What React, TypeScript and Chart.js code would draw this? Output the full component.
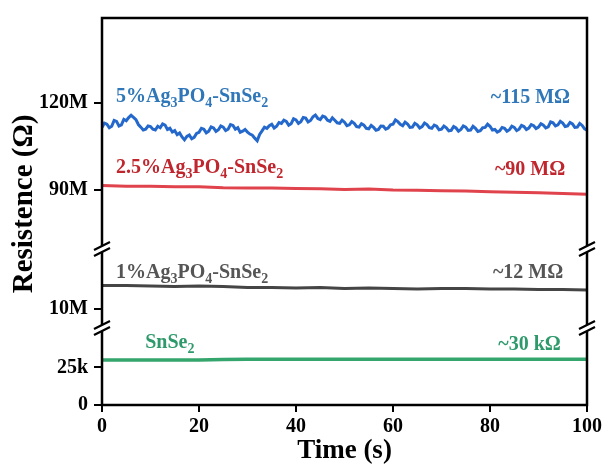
import React, { useEffect, useRef } from 'react';
import { Chart, registerables } from 'chart.js';

Chart.register(...registerables);

// ---------- data ----------
const timeDense: number[] = Array.from({ length: 201 }, (_, i) => i * 0.5);
const timeSparse: number[] = [0, 5, 10, 15, 20, 25, 30, 35, 40, 45, 50, 55, 60, 65, 70, 75, 80, 85, 90, 95, 100];

// 5%Ag3PO4-SnSe2 (MΩ), every 0.5 s
const blueValues: number[] = [
  111.5, 113.0, 112.6, 111.4, 111.9, 113.9, 113.6, 112.0, 112.4, 114.3, 113.8, 114.9, 115.7, 115.0, 114.2, 112.5, 111.6, 110.6, 110.9, 112.0,
  111.8, 110.9, 110.6, 111.9, 111.4, 112.7, 112.3, 110.8, 111.2, 109.9, 110.4, 109.0, 109.6, 108.2, 107.2, 108.4, 108.9, 107.6, 108.1, 109.4,
  109.8, 111.2, 110.9, 109.6, 110.2, 111.7, 111.3, 110.1, 110.7, 112.0, 111.6, 110.4, 110.9, 112.5, 112.2, 110.9, 111.4, 109.8, 110.2, 110.8,
  109.9, 109.2, 108.8, 107.8, 106.9, 109.1, 110.3, 111.6, 111.2, 112.1, 112.6, 111.3, 111.9, 113.2, 112.9, 114.0, 113.6, 112.3, 112.8, 114.5,
  114.1, 112.9, 113.5, 114.9, 114.7, 113.4, 113.9, 115.2, 115.8, 114.6, 114.2, 115.4, 115.1, 114.0, 113.6, 114.8, 114.0, 113.1, 112.9, 114.0,
  113.3, 112.1, 112.4, 113.5, 112.9, 111.8, 111.6, 112.8, 112.3, 111.2, 111.0, 112.2, 111.5, 110.5, 110.8, 112.0, 111.9, 110.9, 111.3, 112.4,
  112.6, 114.1, 113.5, 112.6, 112.1, 113.3, 112.7, 111.5, 111.6, 112.9, 112.4, 111.3, 111.8, 113.0, 112.5, 111.4, 111.2, 112.3, 111.9, 110.7,
  110.9, 112.0, 111.4, 110.3, 110.5, 111.8, 111.3, 110.2, 110.8, 112.0, 111.6, 110.5, 110.6, 111.9, 111.2, 110.1, 110.4, 111.4, 111.5, 112.6,
  111.9, 110.6, 110.8, 109.9, 110.3, 111.5, 111.2, 110.2, 110.7, 111.9, 111.5, 110.4, 110.9, 112.2, 111.8, 110.8, 111.3, 112.5, 112.1, 111.1,
  111.6, 112.8, 112.3, 111.3, 111.7, 113.4, 113.1, 112.0, 112.4, 113.6, 113.0, 111.8, 112.0, 113.2, 112.7, 111.5, 111.6, 112.9, 112.2, 111.0,
  110.6,
];
// 2.5%Ag3PO4-SnSe2 (MΩ)
const redValues: number[] = [
  91.4, 91.2, 91.2, 91.0, 91.0, 90.7, 90.6, 90.6, 90.4, 90.3, 90.1,
  90.2, 89.9, 89.8, 89.6, 89.5, 89.3, 89.1, 88.9, 88.7, 88.4,
];
// 1%Ag3PO4-SnSe2 (MΩ)
const grayValues: number[] = [
  12.4, 12.4, 12.35, 12.3, 12.35, 12.3, 12.2, 12.2, 12.15, 12.2, 12.1,
  12.15, 12.1, 12.05, 12.1, 12.1, 12.05, 12.05, 12.0, 12.0, 11.95,
];
// SnSe2 (kΩ)
const greenValues: number[] = [
  29.9, 29.9, 30.0, 30.0, 30.0, 30.3, 30.4, 30.4, 30.4, 30.4, 30.4,
  30.5, 30.5, 30.5, 30.5, 30.5, 30.5, 30.5, 30.5, 30.5, 30.5,
];

const xTicks: number[] = [0, 20, 40, 60, 80, 100];
const yTicksLow: number[] = [0, 25000];
const yTickLabelsLow: string[] = ['0', '25k'];
const yTicksMid: number[] = [10e6];
const yTickLabelsMid: string[] = ['10M'];
const yTicksTop: number[] = [90e6, 120e6];
const yTickLabelsTop: string[] = ['90M', '120M'];

const seriesNames: string[] = ['5%Ag_3PO_4-SnSe_2', '2.5%Ag_3PO_4-SnSe_2', '1%Ag_3PO_4-SnSe_2', 'SnSe_2'];
const valueNotes: string[] = ['~115 MΩ', '~90 MΩ', '~12 MΩ', '~30 kΩ'];

// ---------- style / layout ----------
const FONT = '"Liberation Serif", "Times New Roman", serif';
const lineColors = ['#2468cc', '#e0434c', '#454545', '#34a56c'];
const textColors = ['#2f77b8', '#c0262d', '#555555', '#2e9a6b'];
const axisIds = ['yTop', 'yTop', 'yMid', 'yLow'];
// anchors in data units: [xLeft, yLeft, xRight, yRight]
const labelAnchors: number[][] = [
  [2.9, 120.3e6, 96.5, 120.0e6],
  [2.9, 95.7e6, 95.5, 95.0e6],
  [2.9, 13.2, 95.1, 13.2],
  [8.9, 38.2, 94.6, 36.8],
];

function parseRich(s: string) {
  const parts: { t: string; sub: boolean }[] = [];
  let buf = '';
  for (let i = 0; i < s.length; i++) {
    if (s[i] === '_') {
      if (buf) parts.push({ t: buf, sub: false });
      buf = '';
      parts.push({ t: s[i + 1], sub: true });
      i++;
    } else buf += s[i];
  }
  if (buf) parts.push({ t: buf, sub: false });
  return parts;
}

function drawRich(ctx: CanvasRenderingContext2D, s: string, x: number, y: number, align: 'left' | 'right', color: string) {
  const parts = parseRich(s);
  const main = `bold 20px ${FONT}`;
  const sub = `bold 14px ${FONT}`;
  let w = 0;
  for (const p of parts) {
    ctx.font = p.sub ? sub : main;
    w += ctx.measureText(p.t).width;
  }
  let cx = align === 'right' ? x - w : x;
  ctx.fillStyle = color;
  ctx.textAlign = 'left';
  ctx.textBaseline = 'alphabetic';
  for (const p of parts) {
    ctx.font = p.sub ? sub : main;
    ctx.fillText(p.t, cx, p.sub ? y + 5 : y);
    cx += ctx.measureText(p.t).width;
  }
}

const decorPlugin = {
  id: 'decor',
  afterDraw(chart: any) {
    const { ctx, chartArea: ca, scales } = chart;
    ctx.save();
    // frame
    ctx.strokeStyle = '#000';
    ctx.lineWidth = 2.5;
    ctx.strokeRect(ca.left, ca.top, ca.right - ca.left, ca.bottom - ca.top);
    // axis breaks
    const bounds = [scales.yTop.bottom, scales.yMid.bottom];
    for (const yb of bounds) {
      for (const x of [ca.left, ca.right]) {
        ctx.fillStyle = '#fff';
        ctx.fillRect(x - 4, yb - 3, 8, 6);
        ctx.beginPath();
        for (const d of [-3, 3]) {
          ctx.moveTo(x - 8, yb + d + 4);
          ctx.lineTo(x + 8, yb + d - 4);
        }
        ctx.strokeStyle = '#000';
        ctx.lineWidth = 2.2;
        ctx.stroke();
      }
    }
    // series labels
    const xs = scales.x;
    seriesNames.forEach((name, i) => {
      const ys = scales[axisIds[i]];
      const a = labelAnchors[i];
      const k = axisIds[i] === 'yMid' ? 1e6 : axisIds[i] === 'yLow' ? 1e3 : 1;
      drawRich(ctx, name, xs.getPixelForValue(a[0]), ys.getPixelForValue(a[1] * k), 'left', textColors[i]);
      drawRich(ctx, valueNotes[i], xs.getPixelForValue(a[2]), ys.getPixelForValue(a[3] * k), 'right', textColors[i]);
    });
    // axis titles
    ctx.fillStyle = '#000';
    ctx.font = `bold 27px ${FONT}`;
    ctx.textAlign = 'center';
    ctx.textBaseline = 'alphabetic';
    ctx.fillText('Time (s)', (ca.left + ca.right) / 2, 458);
    ctx.save();
    ctx.translate(32, 204);
    ctx.rotate(-Math.PI / 2);
    ctx.font = `bold 29px ${FONT}`;
    ctx.fillText('Resistence (Ω)', 0, 0);
    ctx.restore();
    ctx.restore();
  },
};

function yAxis(min: number, max: number, ticks: number[], labels: string[], weight: number) {
  return {
    type: 'linear' as const,
    position: 'left' as const,
    stack: 'res',
    stackWeight: weight,
    min,
    max,
    afterBuildTicks: (s: any) => {
      s.ticks = ticks.map((v) => ({ value: v }));
    },
    afterFit: (s: any) => {
      s.width = 102;
    },
    border: { display: false },
    grid: { drawOnChartArea: false, drawTicks: true, tickLength: 8, color: '#000', lineWidth: 2 },
    ticks: {
      autoSkip: false,
      color: '#000',
      padding: 6,
      font: { family: FONT, size: 20, weight: 'bold' as const },
      callback: (v: any) => {
        const idx = ticks.indexOf(Number(v));
        return idx >= 0 ? labels[idx] : '';
      },
    },
  };
}

export default function App() {
  const ref = useRef<HTMLCanvasElement | null>(null);
  useEffect(() => {
    document.body.style.margin = '0';
    if (!ref.current) return;
    const mk = (t: number[], v: number[], k: number) => t.map((x, i) => ({ x, y: v[i] * k }));
    const chart = new Chart(ref.current, {
      type: 'line',
      data: {
        datasets: [
          { data: mk(timeDense, blueValues, 1e6), yAxisID: 'yTop', borderColor: lineColors[0], borderWidth: 3 },
          { data: mk(timeSparse, redValues, 1e6), yAxisID: 'yTop', borderColor: lineColors[1], borderWidth: 3 },
          { data: mk(timeSparse, grayValues, 1e6), yAxisID: 'yMid', borderColor: lineColors[2], borderWidth: 3 },
          { data: mk(timeSparse, greenValues, 1e3), yAxisID: 'yLow', borderColor: lineColors[3], borderWidth: 3.5 },
        ],
      },
      options: {
        animation: false,
        responsive: false,
        elements: { point: { radius: 0 }, line: { tension: 0 } },
        layout: { padding: { top: 13, right: 18, left: 0, bottom: 0 } },
        plugins: { legend: { display: false }, tooltip: { enabled: false } },
        scales: {
          x: {
            type: 'linear',
            position: 'bottom',
            min: 0,
            max: 100,
            afterBuildTicks: (s: any) => {
              s.ticks = xTicks.map((v) => ({ value: v }));
            },
            afterFit: (s: any) => {
              s.height = 61;
            },
            border: { display: false },
            grid: { drawOnChartArea: false, drawTicks: true, tickLength: 7, color: '#000', lineWidth: 2 },
            ticks: {
              autoSkip: false,
              maxRotation: 0,
              color: '#000',
              padding: 3,
              font: { family: FONT, size: 20, weight: 'bold' },
            },
          },
          yLow: yAxis(0, 51300, yTicksLow, yTickLabelsLow, 78),
          yMid: yAxis(8.1e6, 16.1e6, yTicksMid, yTickLabelsMid, 80),
          yTop: yAxis(69.5e6, 149.3e6, yTicksTop, yTickLabelsTop, 234),
        },
      },
      plugins: [decorPlugin],
    });
    return () => chart.destroy();
  }, []);
  return (
    <div style={{ width: 605, height: 466 }}>
      <canvas ref={ref} width={605} height={466} />
    </div>
  );
}
